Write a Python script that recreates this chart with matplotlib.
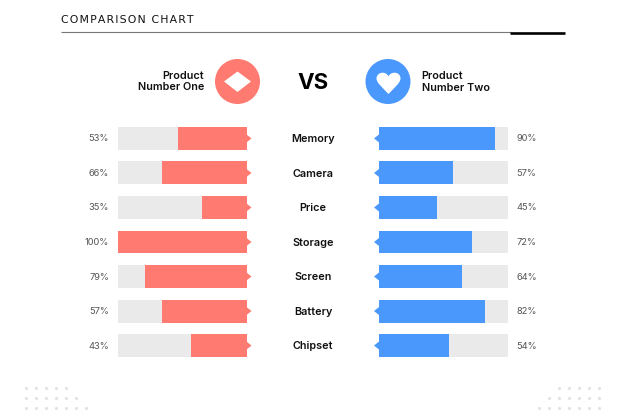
import matplotlib
matplotlib.use('Agg')
import matplotlib.pyplot as plt
from matplotlib.patches import Circle, Polygon, PathPatch
from matplotlib.path import Path

W, H = 626, 417

features = ['Memory', 'Camera', 'Price', 'Storage', 'Screen', 'Battery', 'Chipset']
product_one_labels = [53, 66, 35, 100, 79, 57, 43]
product_two_labels = [90, 57, 45, 72, 64, 82, 54]
# bar lengths as drawn, the Battery bar on the left is longer than its label says
product_one = [53, 66, 35, 100, 79, 66, 43]
product_two = [90, 57, 45, 72, 64, 82, 54]

RED = '#FF7A70'
BLUE = '#4A98FB'
TRACK = '#EAEAEA'
DARK = '#111111'
GREY = '#555555'

plt.rcParams['font.family'] = ['Inter', 'DejaVu Sans']

fig = plt.figure(figsize=(W / 100, H / 100), dpi=100, facecolor='white')


def px_axes(x0, y0, x1, y1):
    # pixel box, measured from the top left of the picture
    ax = fig.add_axes([x0 / W, 1 - y1 / H, (x1 - x0) / W, (y1 - y0) / H])
    ax.axis('off')
    return ax


# overlay in pixel coordinates for the header and decoration
bg = px_axes(0, 0, W, H)
bg.set_xlim(0, W)
bg.set_ylim(H, 0)

# hair spaces for the tracking of the title
title = '\u200a'.join('COMPARISON CHART')
bg.text(61, 19.5, title, fontsize=7.8, family=['DejaVu Sans'], color=DARK, va='center', ha='left')
bg.plot([61, 511], [32.3, 32.3], color='#777777', lw=0.8, solid_capstyle='butt')
bg.plot([510, 565], [33, 33], color='#000000', lw=1.9, solid_capstyle='butt')

bg.add_patch(Circle((237.5, 81.5), 22.5, color=RED, lw=0))
bg.add_patch(Polygon([(224, 81.5), (237.5, 71.5), (251, 81.5), (237.5, 92)], color='white', lw=0))
bg.add_patch(Circle((388, 81.5), 22.5, color=BLUE, lw=0))
heart = Path([(388.5, 94), (383, 88), (376.5, 83), (376.5, 78.5), (376.5, 74.5), (380, 72.7), (382.5, 72.7),
              (385, 72.7), (387.5, 74), (388.5, 76.5), (389.5, 74), (392, 72.7), (394.5, 72.7),
              (397.5, 72.7), (400.5, 74.5), (400.5, 78.5), (400.5, 83), (394, 88), (388.5, 94)],
             [Path.MOVETO] + [Path.CURVE4] * 18)
bg.add_patch(PathPatch(heart, color='white', lw=0))

bg.text(204, 81.5, 'Product\nNumber One', fontsize=7.8, fontweight='semibold', color=DARK,
        ha='right', va='center', linespacing=1.15, multialignment='right')
bg.text(421.5, 82, 'Product\nNumber Two', fontsize=7.8, fontweight='semibold', color=DARK,
        ha='left', va='center', linespacing=1.15)
bg.text(313, 83, 'VS', fontsize=16, fontweight='bold', color='#000000', ha='center', va='center')

for n, y in zip([5, 6, 7], [387.7, 397.7, 407.7]):
    bg.scatter([26 + 10 * i for i in range(n)], [y] * n, s=5, color='#E2E2E2', lw=0)
    bg.scatter([599 - 10 * i for i in range(n)], [y] * n, s=5, color='#E2E2E2', lw=0)

# the two bar panels share the rows, top row at y=0
top, bottom = 121.2, 362.8
left = px_axes(118, top, 246.5, bottom)
right = px_axes(379, top, 508, bottom)
rows = list(range(len(features)))
for ax, vals, color in [(left, product_one, RED), (right, product_two, BLUE)]:
    ax.barh(rows, [100] * len(rows), height=0.665, color=TRACK, lw=0)
    ax.barh(rows, vals, height=0.665, color=color, lw=0)
    ax.set_ylim(6.5, -0.5)
left.set_xlim(100, 0)
right.set_xlim(0, 100)

row_h = (bottom - top) / len(rows)
for i, name in enumerate(features):
    y = top + (i + 0.5) * row_h
    bg.add_patch(Polygon([(246.5, y - 4), (251.5, y), (246.5, y + 4)], color=RED, lw=0))
    bg.add_patch(Polygon([(379, y - 4), (374, y), (379, y + 4)], color=BLUE, lw=0))
    bg.text(313, y + 0.7, name, fontsize=7.8, fontweight='semibold', color=DARK, ha='center', va='center')
    bg.text(109, y + 0.5, '%d%%' % product_one_labels[i], fontsize=6.7, color=GREY, ha='right', va='center')
    bg.text(516.5, y + 0.5, '%d%%' % product_two_labels[i], fontsize=6.7, color=GREY, ha='left', va='center')

fig.savefig('out.png', dpi=100)
